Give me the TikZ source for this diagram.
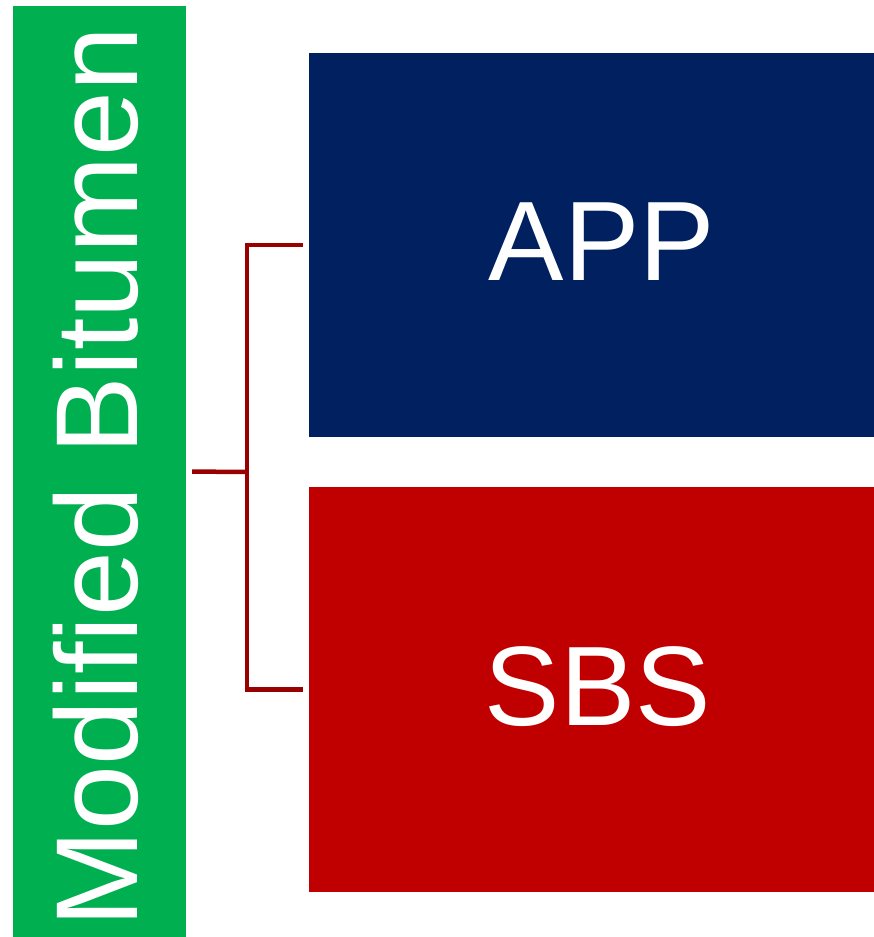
\documentclass[tikz,border=0pt]{standalone}
\usepackage{fontspec}
\setmainfont{Liberation Sans}
\usepackage{tikz}
\usetikzlibrary{positioning}
\definecolor{mbgreen}{HTML}{00B050}
\definecolor{appblue}{HTML}{002060}
\definecolor{sbsred}{HTML}{C00000}
\definecolor{linkred}{HTML}{990000}
\tikzset{
  typebox/.style={rectangle, draw=none, inner sep=0pt},
  typetext/.style={text=white, inner sep=0pt, anchor=base,
    font=\fontsize{113}{120}\selectfont},
  link/.style={draw=linkred, line width=4.5pt}
}

\begin{document}
\begin{tikzpicture}[x=1pt, y=-1pt]
  \useasboundingbox (0,0) rectangle (874,937);
  % root and its two kinds
  \node[typebox, fill=mbgreen, minimum width=173pt, minimum height=931pt] (mb) at (99.5,471.5) {};
  \node[typetext, rotate=90, font=\fontsize{116.5}{120}\selectfont] (mbtext) at (137,477) {Modified Bitumen};
  \node[typebox, fill=appblue, minimum width=565pt, minimum height=384pt] (app) at (591.5,245) {};
  \node[typetext] (apptext) at (602,280) {APP};
  \node[typebox, fill=sbsred, minimum width=565pt, minimum height=405pt] (sbs) at (591.5,689.5) {};
  \node[typetext] (sbstext) at (598,725) {SBS};
  % bracket
  \coordinate (hub) at (247,472);
  \draw[link, shorten <=6pt] (mb.east) -- (hub);
  \draw[link, shorten >=6pt] (hub) |- (app.west);
  \draw[link, shorten >=6pt] (hub) |- (sbs.west);
\end{tikzpicture}
\end{document}
